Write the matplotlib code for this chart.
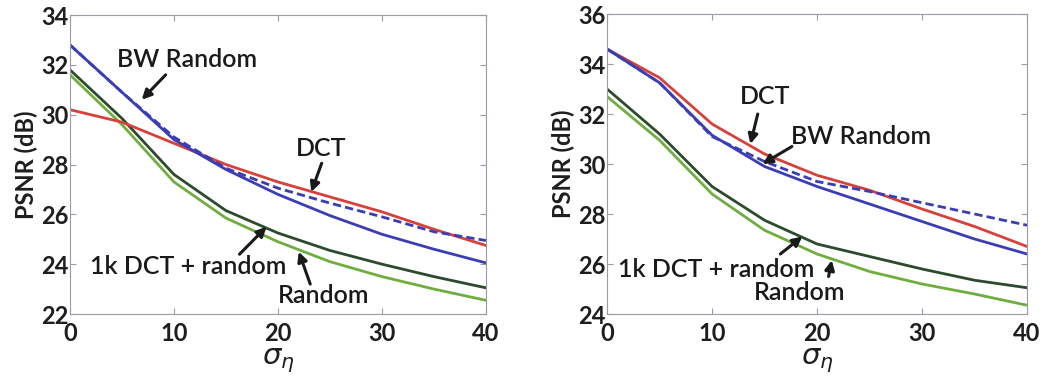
import matplotlib.pyplot as plt

# --- noise levels (x axis) ---
sigma = [0, 5, 10, 15, 20, 25, 30, 35, 40]

# --- left panel PSNR values (dB) ---
left_dct = [30.2, 29.7, 28.85, 28.0, 27.3, 26.7, 26.1, 25.4, 24.75]
left_bw = [32.8, 30.9, 29.0, 27.8, 26.8, 25.95, 25.2, 24.6, 24.05]
left_bw_dash = [32.8, 30.9, 29.1, 27.85, 27.05, 26.45, 25.9, 25.3, 24.95]
left_mix = [31.8, 29.85, 27.6, 26.15, 25.25, 24.55, 24.0, 23.5, 23.05]
left_rand = [31.6, 29.6, 27.3, 25.85, 24.9, 24.1, 23.5, 23.0, 22.55]

# --- right panel PSNR values (dB) ---
right_dct = [34.6, 33.45, 31.6, 30.4, 29.55, 28.95, 28.2, 27.5, 26.7]
right_bw = [34.6, 33.25, 31.15, 29.9, 29.1, 28.4, 27.7, 27.0, 26.4]
right_bw_dash = [34.6, 33.25, 31.1, 30.1, 29.3, 28.9, 28.45, 28.0, 27.55]
right_mix = [33.0, 31.2, 29.1, 27.75, 26.8, 26.3, 25.8, 25.35, 25.05]
right_rand = [32.7, 30.95, 28.8, 27.35, 26.4, 25.7, 25.2, 24.8, 24.35]

RED = '#d6413c'
BLUE = '#3b3db5'
DKGREEN = '#2c4a2c'
LTGREEN = '#6fae3e'
INK = '#1e1e1e'

plt.rcParams['font.family'] = ['Lato', 'DejaVu Sans']

fig = plt.figure(figsize=(10.49, 3.88), dpi=100)
ax1 = fig.add_axes([0.0667, 0.1907, 0.3966, 0.7706])
ax2 = fig.add_axes([0.5787, 0.1907, 0.4004, 0.7732])


def draw(ax, dct, bw, bw_dash, mix, rand, ylim, notes):
    ax.plot(sigma, rand, color=LTGREEN, lw=2)
    ax.plot(sigma, mix, color=DKGREEN, lw=2)
    ax.plot(sigma, dct, color=RED, lw=2)
    ax.plot(sigma, bw_dash, color=BLUE, lw=2, ls=(0, (3, 1.5)))
    ax.plot(sigma, bw, color=BLUE, lw=2)
    ax.set_xlim(0, 40)
    ax.set_ylim(*ylim)
    ax.set_xticks([0, 10, 20, 30, 40])
    ax.set_yticks(range(ylim[0], ylim[1] + 1, 2))
    ax.tick_params(direction='in', top=True, right=True, length=4,
                   color='#9a9aa8', labelsize=17)
    ax.tick_params(axis='x', pad=6)
    ax.tick_params(axis='y', pad=1)
    for lab in ax.get_xticklabels() + ax.get_yticklabels():
        lab.set_fontweight('bold')
        lab.set_color(INK)
    for sp in ax.spines.values():
        sp.set_color('#9a9aa8')
    ax.set_ylabel('PSNR (dB)', fontsize=17, fontweight='bold', color=INK, labelpad=2)
    ax.set_xlabel(r'$\sigma_\eta$', fontsize=21, color=INK, va='center')
    ax.xaxis.set_label_coords(0.5, -0.155)
    for text, xy, xytext, tpos in notes:
        ax.annotate('', xy=xy, xytext=xytext,
                    arrowprops=dict(arrowstyle='-|>', color='#1a1a1a', lw=2.2,
                                    mutation_scale=14, shrinkA=0, shrinkB=0))
        ax.text(tpos[0], tpos[1], text, fontsize=18, ha='center', va='center',
                color='#1a1a1a', fontweight='semibold')


draw(ax1, left_dct, left_bw, left_bw_dash, left_mix, left_rand, (22, 34), [
    ('BW Random', (6.9, 30.6), (9.2, 31.6), (11.3, 32.2)),
    ('DCT', (23.2, 26.9), (24.2, 28.05), (24.1, 28.65)),
    ('1k DCT + random', (18.9, 25.5), (16.3, 24.4), (11.4, 23.9)),
    ('Random', (22.0, 24.5), (23.1, 23.2), (24.4, 22.75)),
])

draw(ax2, right_dct, right_bw, right_bw_dash, right_mix, right_rand, (24, 36), [
    ('DCT', (13.65, 30.8), (14.35, 32.0), (15.1, 32.7)),
    ('BW Random', (14.8, 30.0), (17.6, 30.7), (24.2, 31.1)),
    ('1k DCT + random', (18.6, 27.1), (16.5, 26.4), (10.4, 25.8)),
    ('Random', (21.4, 26.15), (21.1, 25.5), (18.3, 24.85)),
])

fig.savefig('out.png', dpi=100)
